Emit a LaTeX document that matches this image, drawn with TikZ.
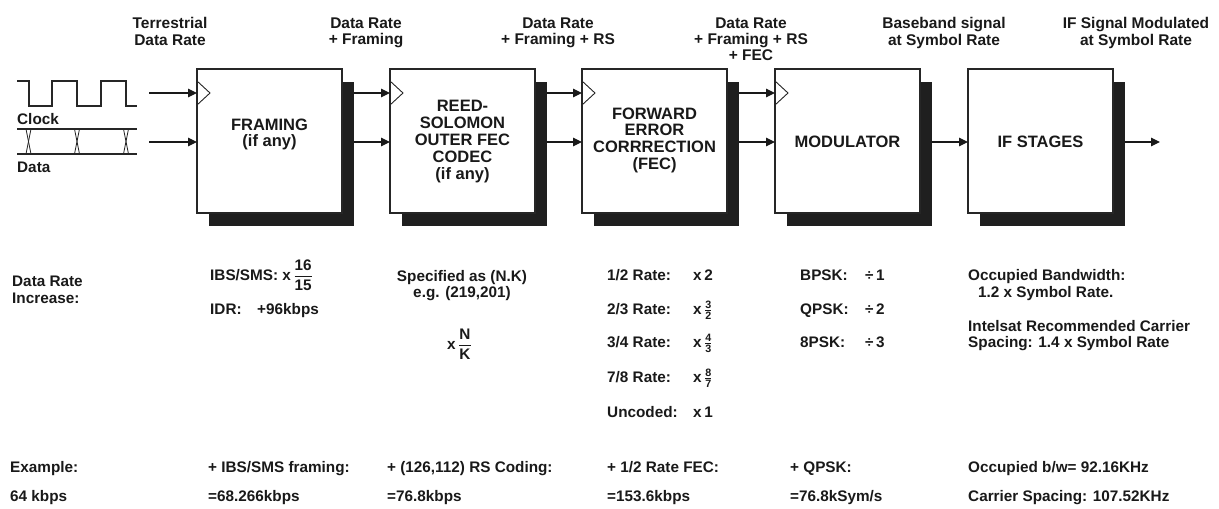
\documentclass[tikz,border=0pt]{standalone}
\usepackage{amsmath}
\usepackage{fontspec}
\setmainfont{Liberation Sans}
\usetikzlibrary{arrows.meta}
\newcommand\lowfont{\fontsize{15.3}{17}\selectfont\bfseries}
\newcommand\topfont{\fontsize{15.5}{16.3}\selectfont\bfseries}
\newcommand\boxfont{\fontsize{16.5}{16.8}\selectfont\bfseries}
\newcommand\bigfr[2]{$\genfrac{}{}{1.1pt}{0}{\text{#1}}{\text{#2}}$}
\newcommand\smfr[2]{$\genfrac{}{}{0.9pt}{1}{\text{#1}}{\text{#2}}$}
\begin{document}
\begin{tikzpicture}[x=1pt,y=-1pt,
  box/.style={draw=black!85,line width=1.1pt,fill=white,minimum width=145pt,minimum height=144pt,inner sep=0pt,outer sep=0pt},
  shade/.style={fill=black!88,minimum width=145pt,minimum height=144pt,inner sep=0pt,outer sep=0pt},
  arr/.style={line width=1.1pt,black!90,-{Triangle[length=9pt,width=8.5pt]}},
  notch/.style={draw=black!85,line width=0.9pt},
  wave/.style={line width=1.1pt,black!85},
  toplab/.style={font=\topfont,align=center,anchor=north,inner sep=0pt,text=black!90},
  boxlab/.style={font=\boxfont,align=center,anchor=north,inner sep=0pt,text=black!90},
  txt/.style={font=\lowfont,anchor=base west,inner sep=0pt,text=black!90}]
\useasboundingbox (0,0) rectangle (1219,509);

% shadows and boxes
\foreach \i/\x in {1/269.5,2/462.5,3/654.5,4/847.5,5/1040.5}{
  \node[shade] (s\i) at (\x+12,154) {};
}
\foreach \i/\x in {1/269.5,2/462.5,3/654.5,4/847.5,5/1040.5}{
  \node[box] (b\i) at (\x,141) {};
}
\foreach \i in {1,...,4}{
  \draw[notch] (b\i.north west) ++(0,12) -- ++(13,12) -- ++(-13,12);
}

% connectors
\coordinate (i1) at (149,93);
\coordinate (i2) at (149,142);
\coordinate (o) at (1160,142);
\draw[arr] (i1) -- (b1.west |- i1);
\draw[arr] (i2) -- (b1.west |- i2);
\foreach \a/\b in {1/2,2/3,3/4}{
  \draw[arr] (s\a.east |- i1) -- (b\b.west |- i1);
  \draw[arr] (s\a.east |- i2) -- (b\b.west |- i2);
}
\draw[arr] (s4.east |- i2) -- (b5.west |- i2);
\draw[arr] (s5.east |- o) -- (o);

% clock and data waveforms
\draw[wave] (17,81) -- (29,81) -- (29,106) -- (52,106) -- (52,81) -- (77,81) -- (77,106) -- (101,106) -- (101,81) -- (126,81) -- (126,106) -- (137,106);
\draw[wave] (17,129) -- (137,129);
\draw[wave] (17,154) -- (137,154);
\foreach \x in {28.5,77,126}{
  \draw[line width=0.8pt,black!85] (\x-2.5,129) -- (\x+2.5,154);
  \draw[line width=0.8pt,black!85] (\x+2.5,129) -- (\x-2.5,154);
}
\node[txt] (clk) at (17,124) {Clock};
\node[txt] (dat) at (17,172) {Data};

% top labels
\node[toplab] (t1) at (170,17.5) {Terrestrial\\Data Rate};
\node[toplab] (t2) at (366,17.5) {Data Rate\\+ Framing};
\node[toplab] (t3) at (558,17.5) {Data Rate\\+ Framing + RS};
\node[toplab] (t4) at (751,17.5) {Data Rate\\+ Framing + RS\\+ FEC};
\node[toplab] (t5) at (944,17.5) {Baseband signal\\at Symbol Rate};
\node[toplab] (t6) at (1136,17.5) {IF Signal Modulated\\at Symbol Rate};

% box labels
\node[boxlab] (l1) at (269.5,118.3) {FRAMING\\(if any)};
\node[boxlab] (l2) at (462.5,100.3) {REED-\\SOLOMON\\OUTER FEC\\CODEC\\(if any)};
\node[boxlab] (l3) at (654.5,107.3) {FORWARD\\ERROR\\CORRRECTION\\(FEC)};
\node[boxlab,anchor=base] (l4) at (847.5,147.8) {MODULATOR};
\node[boxlab,anchor=base] (l5) at (1040.5,147.8) {IF STAGES};

% data rate increase
\node[txt] (dr1) at (12,286) {Data Rate};
\node[txt] (dr2) at (12,303) {Increase:};
\node[txt] (ibs) at (210,280) {IBS/SMS: x\,\bigfr{16}{15}};
\node[txt] (idr) at (210,314) {IDR:};
\node[txt] (idrv) at (257,314) {+96kbps};
\node[txt,anchor=base] (sp1) at (462,281) {Specified as (N.K)};
\node[txt,anchor=base] (sp2) at (462,297.5) {e.g. (219,201)};
\node[txt] (nk) at (447,349) {x\,\bigfr{N}{K}};

\node[txt] (f1) at (607,280) {1/2 Rate:};
\node[txt] (f1v) at (693,280) {x\,2};
\node[txt] (f2) at (607,314) {2/3 Rate:};
\node[txt] (f2v) at (693,314) {x\,\smfr{3}{2}};
\node[txt] (f3) at (607,347) {3/4 Rate:};
\node[txt] (f3v) at (693,347) {x\,\smfr{4}{3}};
\node[txt] (f4) at (607,382) {7/8 Rate:};
\node[txt] (f4v) at (693,382) {x\,\smfr{8}{7}};
\node[txt] (f5) at (607,417) {Uncoded:};
\node[txt] (f5v) at (693,417) {x\,1};

\node[txt] (m1) at (800,280) {BPSK:};
\node[txt] (m1v) at (865,280) {÷\,1};
\node[txt] (m2) at (800,314) {QPSK:};
\node[txt] (m2v) at (865,314) {÷\,2};
\node[txt] (m3) at (800,347) {8PSK:};
\node[txt] (m3v) at (865,347) {÷\,3};

\node[txt] (if1) at (968,280) {Occupied Bandwidth:};
\node[txt] (if2) at (978,297) {1.2 x Symbol Rate.};
\node[txt] (if3) at (968,331) {Intelsat Recommended Carrier};
\node[txt] (if4) at (968,347) {Spacing: 1.4 x Symbol Rate};

% example rows
\node[txt] (e0) at (10,472) {Example:};
\node[txt] (e1) at (208,472) {+ IBS/SMS framing:};
\node[txt] (e2) at (387,472) {+ (126,112) RS Coding:};
\node[txt] (e3) at (607,472) {+ 1/2 Rate FEC:};
\node[txt] (e4) at (790,472) {+ QPSK:};
\node[txt] (e5) at (968,472) {Occupied b/w= 92.16KHz};
\node[txt] (r0) at (10,501) {64 kbps};
\node[txt] (r1) at (208,501) {=68.266kbps};
\node[txt] (r2) at (387,501) {=76.8kbps};
\node[txt] (r3) at (607,501) {=153.6kbps};
\node[txt] (r4) at (790,501) {=76.8kSym/s};
\node[txt] (r5) at (968,501) {Carrier Spacing: 107.52KHz};
\end{tikzpicture}
\end{document}
